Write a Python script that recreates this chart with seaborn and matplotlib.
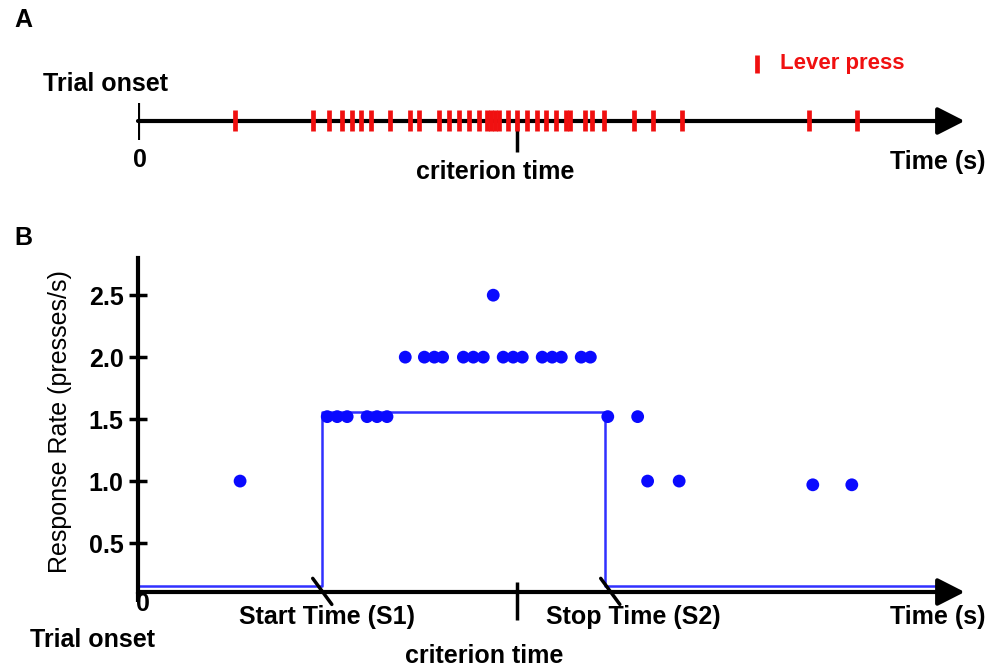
import matplotlib
matplotlib.use("Agg")
import matplotlib.pyplot as plt
import seaborn as sns
import pandas as pd

# ---------------- data ----------------
# Panel A: lever-press times (arbitrary time units, 0..100 axis)
press_times = [11.7, 21.1, 23.0, 24.6, 25.8, 26.9, 28.1, 30.4, 32.8, 33.9,
               36.3, 37.5, 38.7, 39.9, 41.1, 42.0, 42.5, 43.0, 43.5, 44.6,
               45.7, 46.9, 48.1, 49.2, 50.4, 51.6, 52.0, 53.9, 54.7, 56.1,
               59.8, 62.0, 65.5, 80.8, 86.6]
criterion_time = 45.7

# Panel B: response rate points
resp_times = [12.3, 22.8, 24.0, 25.2, 27.6, 28.8, 30.0,
              32.2, 34.5, 35.7, 36.7, 39.2, 40.4, 41.6, 42.8,
              44.0, 45.2, 46.3, 48.7, 49.9, 51.0, 53.4, 54.5,
              56.6, 60.2, 61.4, 65.2, 81.3, 86.0]
resp_rates = [1.0, 1.52, 1.52, 1.52, 1.52, 1.52, 1.52,
              2.0, 2.0, 2.0, 2.0, 2.0, 2.0, 2.0, 2.5,
              2.0, 2.0, 2.0, 2.0, 2.0, 2.0, 2.0, 2.0,
              1.52, 1.52, 1.0, 1.0, 0.97, 0.97]

# Step function (low-high-low)
start_time = 22.2
stop_time = 56.3
end_time = 96.0
low_rate = 0.15
high_rate = 1.556
step_times = [0, start_time, stop_time, end_time]
step_rates = [low_rate, high_rate, low_rate, low_rate]

ytick_values = [0.5, 1.0, 1.5, 2.0, 2.5]
ytick_labels = ["0.5", "1.0", "1.5", "2.0", "2.5"]

# ---------------- style ----------------
sns.set_theme(style="white")
plt.rcParams["font.family"] = ["Liberation Sans", "DejaVu Sans"]
plt.rcParams["text.color"] = "black"
plt.rcParams["axes.labelcolor"] = "black"
plt.rcParams["ytick.color"] = "black"
plt.rcParams["xtick.color"] = "black"

W, H = 1002, 670
fig = plt.figure(figsize=(W / 100, H / 100), dpi=100)


def fx(px):
    return px / W


def fy(py):
    return 1 - py / H


def rect(l, t, r, b):
    return [fx(l), fy(b), (r - l) / W, (b - t) / H]


RED = "#f01010"
BLUE = "#0a0aff"
STEP = "#3030ff"
FS = 18
ARROW = dict(arrowstyle="-|>,head_length=0.55,head_width=0.28",
             lw=3, color="black", mutation_scale=30, shrinkA=0, shrinkB=0)

# ---------------- Panel A ----------------
axA = fig.add_axes(rect(138, 40, 968, 180))
axA.set_xlim(0, 100)
axA.set_ylim(-5.9, 8.1)
axA.axis("off")

axA.annotate("", xy=(99.6, 0), xytext=(0, 0), arrowprops=ARROW,
             annotation_clip=False)
axA.vlines(0, -1.9, 1.8, color="black", lw=3)
axA.vlines(criterion_time, -3.1, 0, color="black", lw=2.5)
axA.vlines(press_times, -1.0, 1.1, color=RED, lw=3.4, zorder=3)
# legend marker
axA.vlines(74.6, 4.8, 6.6, color=RED, lw=3.4, clip_on=False)

fig.text(fx(14), fy(20), "A", fontsize=FS, fontweight="bold", ha="left", va="center")
fig.text(fx(43), fy(84), "Trial onset", fontsize=FS, fontweight="bold", ha="left", va="center")
fig.text(fx(140), fy(160), "0", fontsize=FS, fontweight="bold", ha="center", va="center")
fig.text(fx(495), fy(172), "criterion time", fontsize=FS, fontweight="bold", ha="center", va="center")
fig.text(fx(985), fy(162), "Time (s)", fontsize=FS, fontweight="bold", ha="right", va="center")
fig.text(fx(780), fy(64), "Lever press", fontsize=16, fontweight="bold", color=RED,
         ha="left", va="center")

# ---------------- Panel B ----------------
axB = fig.add_axes(rect(138, 258, 968, 592))
y0 = 0.105
axB.set_xlim(0, 100)
axB.set_ylim(y0, 2.8)

step_df = pd.DataFrame({"t": step_times, "r": step_rates})
sns.lineplot(data=step_df, x="t", y="r", drawstyle="steps-post", color=STEP,
             lw=1.8, ax=axB, zorder=2)
pts = pd.DataFrame({"t": resp_times, "r": resp_rates})
sns.scatterplot(data=pts, x="t", y="r", color=BLUE, s=85, edgecolor="none",
                ax=axB, zorder=3)

sns.despine(ax=axB, top=True, right=True, bottom=True, left=False)
axB.spines["left"].set_color("black")
axB.spines["left"].set_linewidth(3)
axB.set_xticks([])
axB.set_yticks(ytick_values)
axB.set_yticklabels(ytick_labels, fontsize=FS, fontweight="bold", color="black")
axB.tick_params(axis="y", direction="inout", length=13, width=2.5, colors="black",
                pad=4, left=True)
axB.set_xlabel("")
axB.set_ylabel("")

# x axis arrow
axB.annotate("", xy=(99.6, y0), xytext=(0, y0), arrowprops=ARROW,
             annotation_clip=False)
axB.plot([0, 0], [y0 - 0.08, y0], color="black", lw=3, clip_on=False,
         solid_capstyle="butt")
# criterion tick
axB.vlines(criterion_time, y0 - 0.226, y0 + 0.08, color="black", lw=2.5, clip_on=False)
# slashes at start/stop
for t in (start_time, stop_time + 0.6):
    axB.plot([t - 1.15, t + 1.15], [y0 + 0.11, y0 - 0.10], color="black", lw=2.5,
             clip_on=False)

fig.text(fx(14), fy(238), "B", fontsize=FS, fontweight="bold", ha="left", va="center")
fig.text(fx(60), fy(422), "Response Rate (presses/s)", fontsize=FS, rotation=90,
         ha="center", va="center")
fig.text(fx(143), fy(604), "0", fontsize=FS, fontweight="bold", ha="center", va="center")
fig.text(fx(30), fy(640), "Trial onset", fontsize=FS, fontweight="bold", ha="left", va="center")
fig.text(fx(327), fy(617), "Start Time (S1)", fontsize=FS, fontweight="bold", ha="center", va="center")
fig.text(fx(633), fy(617), "Stop Time (S2)", fontsize=FS, fontweight="bold", ha="center", va="center")
fig.text(fx(484), fy(656), "criterion time", fontsize=FS, fontweight="bold", ha="center", va="center")
fig.text(fx(985), fy(617), "Time (s)", fontsize=FS, fontweight="bold", ha="right", va="center")

fig.savefig("out.png", dpi=100, facecolor="white")
